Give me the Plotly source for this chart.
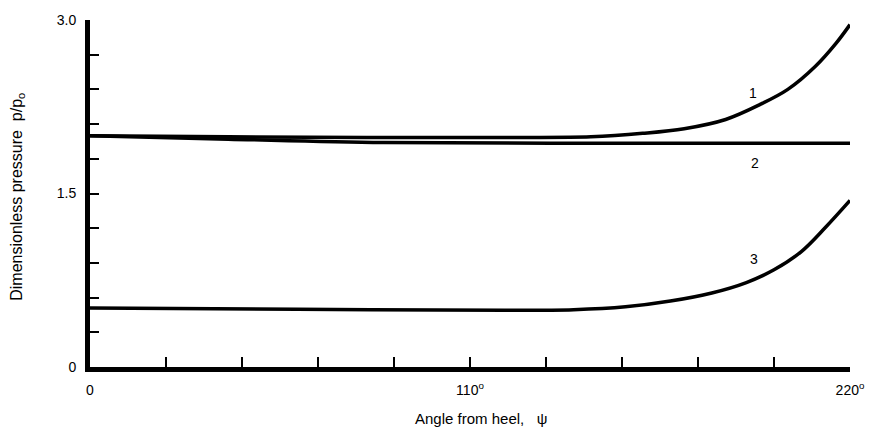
import plotly.graph_objects as go

# Curve 1
angle_1 = [0, 40, 80, 120, 145, 160, 172, 184, 194, 202, 210, 216, 220]
p_1 = [2.00, 1.99, 1.985, 1.985, 1.99, 2.02, 2.06, 2.14, 2.27, 2.40, 2.60, 2.80, 2.96]

# Curve 2
angle_2 = [0, 40, 85, 150, 220]
p_2 = [2.00, 1.97, 1.94, 1.935, 1.935]

# Curve 3
angle_3 = [0, 60, 120, 140, 155, 168, 180, 190, 198, 206, 213, 220]
p_3 = [0.51, 0.50, 0.49, 0.495, 0.52, 0.57, 0.64, 0.73, 0.84, 1.00, 1.21, 1.44]

curve_labels = ["1", "2", "3"]
label_angle = [192, 192.5, 192.2]
label_p = [2.37, 1.76, 0.93]

x_tickvals = [0, 22, 44, 66, 88, 110, 132, 154, 176, 198, 220]
x_ticktext = ["0", "", "", "", "", "110<sup>o</sup>", "", "", "", "", "220<sup>o</sup>"]
y_tickvals = [0, 0.3, 0.6, 0.9, 1.2, 1.5, 1.8, 2.1, 2.4, 2.7, 3.0]
y_ticktext = ["0", "", "", "", "", "1.5", "", "", "", "", "3.0"]

x_title = "Angle from heel,  \u00a0ψ"
y_title = "Dimensionless pressure  p/p<sub>o</sub>"

font_family = "Liberation Sans, Arial, sans-serif"

fig = go.Figure()
for xs, ys in [(angle_1, p_1), (angle_2, p_2), (angle_3, p_3)]:
    fig.add_trace(go.Scatter(x=xs, y=ys, mode="lines",
                             line=dict(color="black", width=3.5, shape="spline", smoothing=1.0),
                             showlegend=False, hoverinfo="skip"))

for t, ax, ay in zip(curve_labels, label_angle, label_p):
    fig.add_annotation(x=ax, y=ay, text=t, showarrow=False,
                       font=dict(family=font_family, size=14, color="black"))

# axis titles placed as in the reference
fig.add_annotation(x=0.514, y=-0.147, xref="paper", yref="paper", text=x_title,
                   showarrow=False, xanchor="center", yanchor="middle",
                   font=dict(family=font_family, size=15, color="black"))
fig.add_annotation(x=-0.095, y=0.49, xref="paper", yref="paper", text=y_title,
                   showarrow=False, textangle=-90, xanchor="center", yanchor="middle",
                   font=dict(family=font_family, size=16, color="black"))

fig.update_layout(
    width=872, height=434,
    margin=dict(l=90, r=22, t=20, b=67),
    paper_bgcolor="white", plot_bgcolor="white",
    font=dict(family=font_family, size=14, color="black"),
)
fig.update_xaxes(
    range=[0, 220], tickvals=x_tickvals, ticktext=x_ticktext, automargin=False,
    ticks="inside", ticklen=10, tickwidth=2, tickcolor="black",
    showline=True, linewidth=5, linecolor="black", showgrid=False, zeroline=False,
    tickfont=dict(size=14), ticklabelstandoff=6,
)
fig.update_yaxes(
    range=[0, 3.0], tickvals=y_tickvals, ticktext=y_ticktext, automargin=False,
    ticks="inside", ticklen=9, tickwidth=2, tickcolor="black",
    showline=True, linewidth=5, linecolor="black", showgrid=False, zeroline=False,
    tickfont=dict(size=14), ticklabelstandoff=6,
)

fig.write_html("out.html")
